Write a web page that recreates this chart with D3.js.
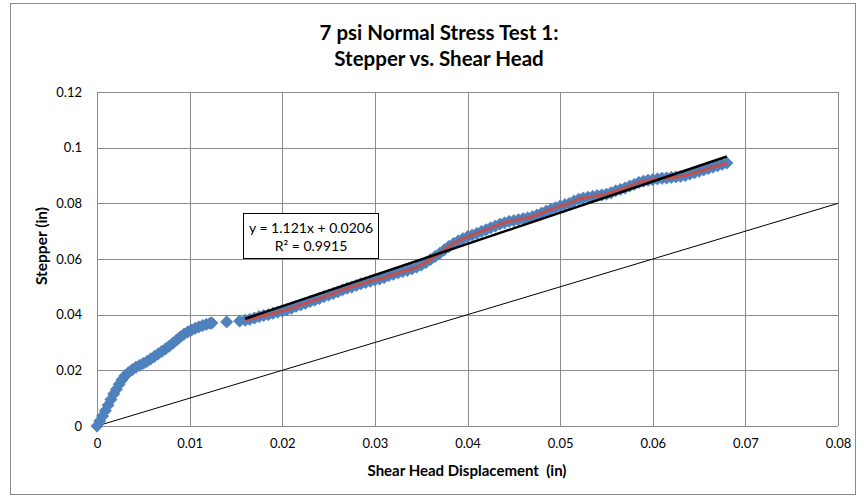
<!DOCTYPE html>
<html>
<head>
<meta charset="utf-8">
<script src="https://d3js.org/d3.v7.min.js"></script>
<style>
  body { margin: 0; background: #fff; }
  text { font-family: Lato, "Open Sans", sans-serif; fill: #000; }
</style>
</head>
<body>
<div id="chart"></div>
<script>
// measured points (shear head displacement, stepper), inches
var shearHead = [
  0, 0.0003, 0.0006, 0.0009, 0.0012, 0.0015, 0.0018, 0.0021, 0.0024, 0.0027, 0.0030, 0.0034, 0.0038, 0.0042, 0.0046,
  0.0050, 0.0054, 0.0058, 0.0062, 0.0066, 0.0070, 0.0074, 0.0078, 0.0082, 0.0086, 0.0090, 0.0094, 0.0098,
  0.0102, 0.0106, 0.0110, 0.0114, 0.0118, 0.0122, 0.0124,
  0.0140, 0.0154,
  0.0160, 0.0165, 0.0170, 0.0175, 0.0180, 0.0185, 0.0190, 0.0195, 0.0200, 0.0205, 0.0210, 0.0215, 0.0220, 0.0225,
  0.0230, 0.0235, 0.0240, 0.0245, 0.0250, 0.0255, 0.0260, 0.0265, 0.0270, 0.0275, 0.0280, 0.0285, 0.0290, 0.0295,
  0.0300, 0.0305, 0.0310, 0.0315, 0.0320, 0.0325, 0.0330, 0.0335, 0.0340, 0.0345, 0.0350, 0.0355, 0.0360, 0.0365,
  0.0370, 0.0375, 0.0380, 0.0385, 0.0390, 0.0395, 0.0400, 0.0405, 0.0410, 0.0415, 0.0420, 0.0425, 0.0430, 0.0435,
  0.0440, 0.0445, 0.0450, 0.0455, 0.0460, 0.0465, 0.0470, 0.0475, 0.0480, 0.0485, 0.0490, 0.0495, 0.0500, 0.0505,
  0.0510, 0.0515, 0.0520, 0.0525, 0.0530, 0.0535, 0.0540, 0.0545, 0.0550, 0.0555, 0.0560, 0.0565, 0.0570, 0.0575,
  0.0580, 0.0585, 0.0590, 0.0595, 0.0600, 0.0605, 0.0610, 0.0615, 0.0620, 0.0625, 0.0630, 0.0635, 0.0640, 0.0645,
  0.0650, 0.0655, 0.0660, 0.0665, 0.0670, 0.0675, 0.0680];
var stepper = [
  0, 0.0018, 0.0036, 0.0055, 0.0075, 0.0095, 0.0115, 0.0132, 0.0150, 0.0166, 0.0180, 0.0192, 0.0202, 0.0211, 0.0218,
  0.0225, 0.0232, 0.0241, 0.0250, 0.0259, 0.0268, 0.0277, 0.0287, 0.0298, 0.0309, 0.0320, 0.0330, 0.0338,
  0.0345, 0.0351, 0.0356, 0.0361, 0.0365, 0.0369, 0.0370,
  0.0374, 0.0377,
  0.0380, 0.0383, 0.0388, 0.0393, 0.0397, 0.0400, 0.0405, 0.0409, 0.0413, 0.0418, 0.0423, 0.0430, 0.0435, 0.0441,
  0.0447, 0.0452, 0.0458, 0.0465, 0.0470, 0.0476, 0.0482, 0.0489, 0.0495, 0.0499, 0.0505, 0.0511, 0.0515, 0.0520,
  0.0525, 0.0528, 0.0533, 0.0540, 0.0545, 0.0550, 0.0555, 0.0559, 0.0565, 0.0571, 0.0578, 0.0587, 0.0598, 0.0609,
  0.0620, 0.0633, 0.0645, 0.0656, 0.0665, 0.0673, 0.0680, 0.0686, 0.0692, 0.0699, 0.0705, 0.0712, 0.0718, 0.0725,
  0.0730, 0.0735, 0.0738, 0.0741, 0.0745, 0.0748, 0.0752, 0.0758, 0.0765, 0.0772, 0.0778, 0.0784, 0.0790, 0.0795,
  0.0800, 0.0808, 0.0815, 0.0819, 0.0822, 0.0825, 0.0828, 0.0830, 0.0833, 0.0838, 0.0845, 0.0850, 0.0855, 0.0862,
  0.0868, 0.0875, 0.0880, 0.0883, 0.0885, 0.0888, 0.0890, 0.0891, 0.0893, 0.0895, 0.0897, 0.0900, 0.0905, 0.0910,
  0.0915, 0.0920, 0.0925, 0.0930, 0.0935, 0.0940, 0.0945];

// linear trendline reported on the chart
var trendSlope = 1.121;
var trendIntercept = 0.0206;
var trendRange = [0.016, 0.068];
var trendLabel = ["y = 1.121x + 0.0206", "R\u00b2 = 0.9915"];

// 1:1 reference line
var refX = [0, 0.08];
var refY = [0, 0.08];

var xTicks = [0, 0.01, 0.02, 0.03, 0.04, 0.05, 0.06, 0.07, 0.08];
var yTicks = [0, 0.02, 0.04, 0.06, 0.08, 0.1, 0.12];

var width = 859, height = 498;
var margin = {left: 97, right: 21, top: 92, bottom: 72};

var svg = d3.select("#chart").append("svg")
    .attr("width", width)
    .attr("height", height);

svg.append("rect")
    .attr("x", 10.5).attr("y", 3.5)
    .attr("width", 845).attr("height", 491)
    .attr("fill", "#fff")
    .attr("stroke", "#898989")
    .attr("stroke-width", 1);

var x = d3.scaleLinear().domain([0, 0.08]).range([margin.left, width - margin.right]);
var y = d3.scaleLinear().domain([0, 0.12]).range([height - margin.bottom, margin.top]);

// gridlines
svg.append("g")
    .attr("class", "grid")
    .selectAll("line.v")
    .data(xTicks)
    .enter()
    .append("line")
    .attr("x1", function(d) { return Math.round(x(d)) + 0.5; })
    .attr("x2", function(d) { return Math.round(x(d)) + 0.5; })
    .attr("y1", y(0))
    .attr("y2", y(0.12))
    .attr("stroke", "#8c8c8c")
    .attr("stroke-width", 1);

svg.append("g")
    .attr("class", "grid")
    .selectAll("line.h")
    .data(yTicks)
    .enter()
    .append("line")
    .attr("x1", x(0))
    .attr("x2", x(0.08))
    .attr("y1", function(d) { return Math.round(y(d)) + 0.5; })
    .attr("y2", function(d) { return Math.round(y(d)) + 0.5; })
    .attr("stroke", "#8c8c8c")
    .attr("stroke-width", 1);

// axes (labels only, Excel style)
var xAxis = svg.append("g")
    .attr("transform", "translate(0," + (y(0) + 10) + ")")
    .call(d3.axisBottom(x).tickValues(xTicks).tickSize(0).tickFormat(d3.format("~g")));
xAxis.select(".domain").remove();
xAxis.selectAll("text").style("font-size", "13px").attr("dy", "0.71em");

var yAxis = svg.append("g")
    .attr("transform", "translate(" + (x(0) - 12) + ",0)")
    .call(d3.axisLeft(y).tickValues(yTicks).tickSize(0).tickFormat(d3.format("~g")));
yAxis.select(".domain").remove();
yAxis.selectAll("text").style("font-size", "13px");

// 1:1 line
var refPts = refX.map(function(d, i) { return [d, refY[i]]; });
svg.append("path")
    .datum(refPts)
    .attr("d", d3.line().x(function(d) { return x(d[0]); }).y(function(d) { return y(d[1]); }))
    .attr("fill", "none")
    .attr("stroke", "#000")
    .attr("stroke-width", 1);

// data diamonds (rotated squares)
var pts = shearHead.map(function(d, i) { return [d, stepper[i]]; });
var diamond = d3.symbol().type(d3.symbolSquare).size(76);
svg.append("g")
    .attr("class", "points")
    .selectAll("path")
    .data(pts)
    .enter()
    .append("path")
    .attr("transform", function(d) { return "translate(" + x(d[0]) + "," + y(d[1]) + ") rotate(45)"; })
    .attr("d", diamond)
    .attr("fill", "#4F81BD")
    .attr("stroke", "#4A7EBB")
    .attr("stroke-width", 0.6);

// moving average (red) over the fitted range
var fitPts = pts.filter(function(d) { return d[0] >= trendRange[0]; });
svg.append("path")
    .datum(fitPts)
    .attr("d", d3.line().x(function(d) { return x(d[0]); }).y(function(d) { return y(d[1]); }))
    .attr("fill", "none")
    .attr("stroke", "#C0504D")
    .attr("stroke-width", 3);

// linear trendline
var trendPts = trendRange.map(function(d) { return [d, trendSlope * d + trendIntercept]; });
svg.append("path")
    .datum(trendPts)
    .attr("d", d3.line().x(function(d) { return x(d[0]); }).y(function(d) { return y(d[1]); }))
    .attr("fill", "none")
    .attr("stroke", "#000")
    .attr("stroke-width", 2.5);

// equation box
var box = svg.append("g").attr("transform", "translate(243,213)");
box.append("rect")
    .attr("x", 0.5).attr("y", 0.5)
    .attr("width", 135).attr("height", 45)
    .attr("fill", "#fff")
    .attr("stroke", "#000")
    .attr("stroke-width", 1);
box.selectAll("text")
    .data(trendLabel)
    .enter()
    .append("text")
    .attr("x", 68)
    .attr("y", function(d, i) { return 20 + i * 18; })
    .attr("text-anchor", "middle")
    .style("font-size", "14px")
    .text(function(d) { return d; });

// titles
var title = ["7 psi Normal Stress Test 1:", "Stepper vs. Shear Head"];
svg.append("g")
    .selectAll("text")
    .data(title)
    .enter()
    .append("text")
    .attr("x", 439)
    .attr("y", function(d, i) { return 40 + i * 26; })
    .attr("text-anchor", "middle")
    .style("font-size", "20.5px")
    .style("font-weight", "bold")
    .text(function(d) { return d; });

svg.append("text")
    .attr("x", 467)
    .attr("y", 476)
    .attr("text-anchor", "middle")
    .style("font-size", "15px")
    .style("font-weight", "bold")
    .style("white-space", "pre")
    .text("Shear Head Displacement  (in)");

svg.append("text")
    .attr("transform", "translate(47,246) rotate(-90)")
    .attr("text-anchor", "middle")
    .style("font-size", "15.5px")
    .style("font-weight", "bold")
    .text("Stepper (in)");
</script>
</body>
</html>
